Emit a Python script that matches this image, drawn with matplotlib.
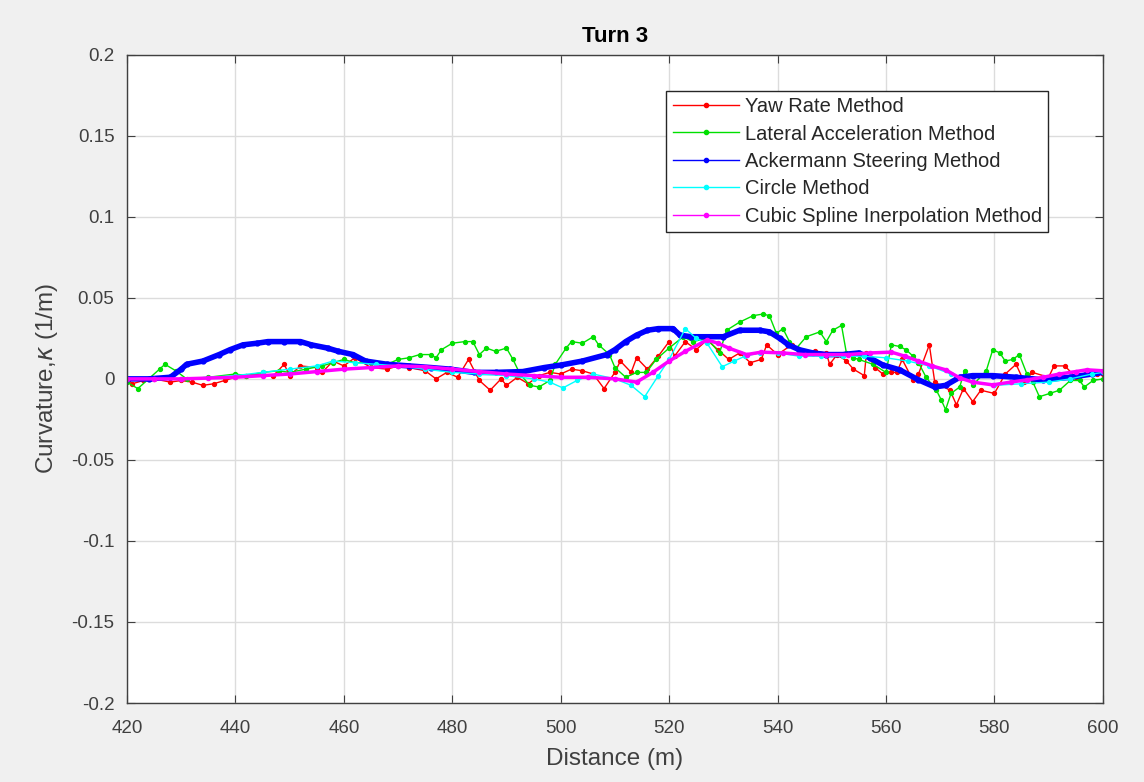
import matplotlib
matplotlib.use("Agg")
import matplotlib.pyplot as plt

# ---------------- data ----------------
yaw_x = [420, 421, 423, 425, 428, 430, 432, 434, 436, 438, 440, 442, 445, 447, 449, 450, 452, 455, 456, 458,
         460, 462, 465, 468, 470, 472, 475, 477, 479, 481, 483, 485, 487, 489, 490, 492, 494, 496, 498, 500,
         502, 504, 506, 508, 510, 511, 513, 514, 516, 518, 520, 521, 523, 525, 527, 529, 531, 533, 535, 537,
         538, 540, 542.6, 545, 547, 549, 549.6, 551, 552.7, 554, 556, 556.4, 558, 559.4, 561, 562, 563, 565, 566, 568,
         569, 571.8, 573, 574.3, 576, 577.5, 580, 582, 584, 585.5, 587, 590, 591, 593, 595, 597, 599, 600]
yaw_y = [0.000, -0.003, -0.001, 0.000, -0.002, -0.001, -0.002, -0.004, -0.003, -0.001, 0.001, 0.002, 0.003, 0.002, 0.009, 0.002, 0.008, 0.007, 0.004, 0.011,
         0.008, 0.013, 0.007, 0.006, 0.008, 0.007, 0.005, 0.000, 0.004, 0.001, 0.012, -0.001, -0.007, 0.000, -0.004, 0.001, -0.003, 0.002, 0.004, 0.003,
         0.006, 0.005, 0.003, -0.006, 0.004, 0.011, 0.004, 0.013, 0.006, 0.014, 0.023, 0.014, 0.023, 0.018, 0.024, 0.018, 0.012, 0.016, 0.010, 0.012,
         0.021, 0.015, 0.021, 0.016, 0.017, 0.016, 0.009, 0.015, 0.011, 0.006, 0.002, 0.016, 0.007, 0.003, 0.004, 0.004, 0.012, -0.001, 0.003, 0.021,
         -0.002, -0.007, -0.016, -0.006, -0.014, -0.007, -0.009, 0.003, 0.009, -0.002, 0.004, 0.001, 0.008, 0.008, 0.001, 0.004, 0.003, 0.003]

lat_x = [420, 422, 424, 426, 427, 429, 431, 435, 440, 442, 445, 448, 450, 453, 456, 458, 460, 462, 465, 468,
         470, 472, 474, 476, 477, 478, 480, 482.3, 483.8, 485, 486.3, 488, 490, 491.2, 492.5, 494.3, 496, 498, 499, 501,
         502, 504, 506, 507, 509, 510, 512, 514, 515.8, 517.6, 520, 522.6, 524.4, 527, 529.3, 530.6, 533, 535.5, 537.3, 538.5,
         539.8, 541, 542.2, 543.5, 545.3, 547.8, 549, 550.2, 551.8, 552.7, 554, 555, 557.6, 560, 561, 562.5, 563.7, 565, 566, 567.4,
         569.3, 570.2, 571, 572, 573.6, 574.5, 576, 578.5, 579.7, 581, 582, 583.4, 584.6, 586, 587.1, 588.3, 590.2, 592, 594, 595.7,
         596.6, 598.2, 600]
lat_y = [-0.002, -0.006, 0.000, 0.006, 0.009, 0.005, 0.000, 0.001, 0.003, 0.002, 0.004, 0.005, 0.004, 0.006, 0.008, 0.010, 0.012, 0.010, 0.010, 0.009,
         0.012, 0.013, 0.015, 0.015, 0.013, 0.018, 0.022, 0.023, 0.023, 0.015, 0.019, 0.017, 0.019, 0.012, 0.003, -0.004, -0.005, -0.001, 0.009, 0.019,
         0.023, 0.022, 0.026, 0.021, 0.015, 0.007, 0.001, 0.004, 0.004, 0.012, 0.019, 0.026, 0.023, 0.025, 0.016, 0.030, 0.035, 0.039, 0.040, 0.039,
         0.028, 0.031, 0.023, 0.019, 0.026, 0.029, 0.023, 0.030, 0.033, 0.016, 0.013, 0.012, 0.009, 0.004, 0.021, 0.020, 0.018, 0.014, 0.010, 0.001,
         -0.007, -0.013, -0.019, -0.009, -0.005, 0.005, -0.004, 0.005, 0.018, 0.016, 0.011, 0.012, 0.015, 0.003, -0.002, -0.011, -0.009, -0.007, -0.001, -0.001,
         -0.005, -0.001, 0.000]

ack_x = [420, 424, 428, 430, 431, 434, 437, 439, 441.4, 444, 446, 449, 452, 454, 457, 459, 461.7, 464, 468, 472,
         476, 479.6, 484, 488, 493, 497, 500, 504, 508.5, 510, 512, 514, 516, 518, 520.7, 522, 524, 527, 530, 533,
         536.7, 538.5, 540.4, 542, 544, 546.5, 549, 552, 555, 557, 559.4, 562.5, 566, 569, 571, 573.6, 576, 579.7, 584, 589,
         594, 598, 600]
ack_y = [0.000, 0.000, 0.001, 0.006, 0.009, 0.011, 0.015, 0.018, 0.021, 0.022, 0.023, 0.023, 0.023, 0.021, 0.019, 0.017, 0.015, 0.011, 0.009, 0.008,
         0.007, 0.006, 0.004, 0.004, 0.0045, 0.007, 0.0085, 0.011, 0.015, 0.018, 0.023, 0.027, 0.030, 0.031, 0.031, 0.027, 0.026, 0.026, 0.026, 0.030,
         0.030, 0.029, 0.025, 0.021, 0.018, 0.016, 0.015, 0.015, 0.016, 0.013, 0.0086, 0.0056, -0.0006, -0.005, -0.004, 0.001, 0.002, 0.002, 0.001, -0.0006,
         0.001, 0.003, 0.004]

circ_x = [420, 430, 440, 445, 450, 455, 458, 462, 466, 470, 475, 480, 485, 490, 495, 498, 500.4, 503, 506, 510,
          513, 515.5, 518, 520, 523, 525, 527, 529.8, 532, 534, 536.7, 540, 544, 548, 552, 556, 560, 564, 568, 572,
          576, 580, 585, 590, 594, 598, 600]
circ_y = [0.000, 0.000, 0.002, 0.004, 0.006, 0.008, 0.011, 0.010, 0.009, 0.008, 0.006, 0.004, 0.003, 0.002, 0.000, -0.002, -0.0056, -0.001, 0.003, 0.000,
          -0.004, -0.011, 0.002, 0.012, 0.031, 0.025, 0.022, 0.0075, 0.011, 0.014, 0.016, 0.016, 0.014, 0.014, 0.014, 0.014, 0.013, 0.011, 0.008, 0.003,
          -0.002, -0.004, -0.003, -0.002, 0.000, 0.003, 0.004]

spl_x = [420, 425, 430, 435, 440, 445, 450, 455, 460, 465, 470, 475, 480, 485, 490, 495, 500, 505, 510, 514,
         517, 520, 523, 527, 529, 531, 534.3, 537, 541, 545, 549, 553, 557, 561, 563.5, 566, 568.5, 571, 573.6, 576,
         579.7, 583, 586, 589, 592, 595, 597, 600]
spl_y = [0.000, 0.000, 0.000, 0.0005, 0.001, 0.002, 0.003, 0.0045, 0.006, 0.007, 0.008, 0.0075, 0.006, 0.0045, 0.003, 0.002, 0.001, 0.001, 0.000, -0.002,
         0.004, 0.011, 0.017, 0.024, 0.022, 0.019, 0.015, 0.0165, 0.016, 0.015, 0.015, 0.015, 0.016, 0.0165, 0.014, 0.011, 0.008, 0.0056, 0.0006, -0.002,
         -0.0037, -0.002, -0.0006, 0.001, 0.003, 0.0045, 0.0056, 0.005]

series_labels = ["Yaw Rate Method", "Lateral Acceleration Method", "Ackermann Steering Method",
                 "Circle Method", "Cubic Spline Inerpolation Method"]

x_ticks = [420, 440, 460, 480, 500, 520, 540, 560, 580, 600]
y_ticks = [-0.2, -0.15, -0.1, -0.05, 0, 0.05, 0.1, 0.15, 0.2]
y_tick_labels = ["-0.2", "-0.15", "-0.1", "-0.05", "0", "0.05", "0.1", "0.15", "0.2"]

# ---------------- plot ----------------
plt.rcParams['font.family'] = ['Liberation Sans', 'DejaVu Sans']
TXT = '#404040'

fig = plt.figure(figsize=(11.44, 7.82), dpi=100, facecolor='#f0f0f0')
ax = fig.add_axes([0.111, 0.101, 0.853, 0.829])
ax.set_facecolor('white')

ax.plot(yaw_x, yaw_y, color='#ff0000', lw=1.0, marker='o', ms=2.8, label=series_labels[0])
ax.plot(lat_x, lat_y, color='#00e000', lw=1.0, marker='o', ms=2.8, label=series_labels[1])
ax.plot(ack_x, ack_y, color='#0000ff', lw=4.0, marker='o', ms=3.5, label=series_labels[2])
ax.plot(circ_x, circ_y, color='#00ffff', lw=1.0, marker='o', ms=2.8, label=series_labels[3])
ax.plot(spl_x, spl_y, color='#ff00ff', lw=2.5, marker='o', ms=3.0, label=series_labels[4])

ax.set_xlim(420, 600)
ax.set_ylim(-0.2, 0.2)
ax.set_xticks(x_ticks)
ax.set_xticklabels([str(t) for t in x_ticks])
ax.set_yticks(y_ticks)
ax.set_yticklabels(y_tick_labels)
ax.grid(True, color='#dcdcdc', lw=1.0)
ax.set_axisbelow(True)
ax.tick_params(direction='in', top=True, right=True, length=6, labelsize=13.5,
               colors=TXT, labelcolor=TXT)
ax.tick_params(axis='x', pad=12)
ax.tick_params(axis='y', pad=9)
for s in ax.spines.values():
    s.set_color(TXT)
    s.set_linewidth(1.0)

ax.set_title('Turn 3', fontsize=16, fontweight='bold', pad=9, color='#000000')
ax.set_xlabel('Distance (m)', fontsize=17.5, color=TXT, labelpad=8)
ax.set_ylabel(r'Curvature,$\kappa$ (1/m)', fontsize=17.5, color=TXT, labelpad=8)

leg = ax.legend(loc='upper right', bbox_to_anchor=(0.944, 0.944), fontsize=14.5, frameon=True,
                fancybox=False, edgecolor='#262626', framealpha=1, borderpad=0.3,
                handlelength=3.3, handletextpad=0.3, labelspacing=0.42, borderaxespad=0)
leg.get_frame().set_linewidth(1.0)
for t in leg.get_texts():
    t.set_color('#262626')
for h in leg.legend_handles:
    h.set_linewidth(1.0)
    h.set_markersize(3)

fig.savefig('out.png', dpi=100, facecolor=fig.get_facecolor())
